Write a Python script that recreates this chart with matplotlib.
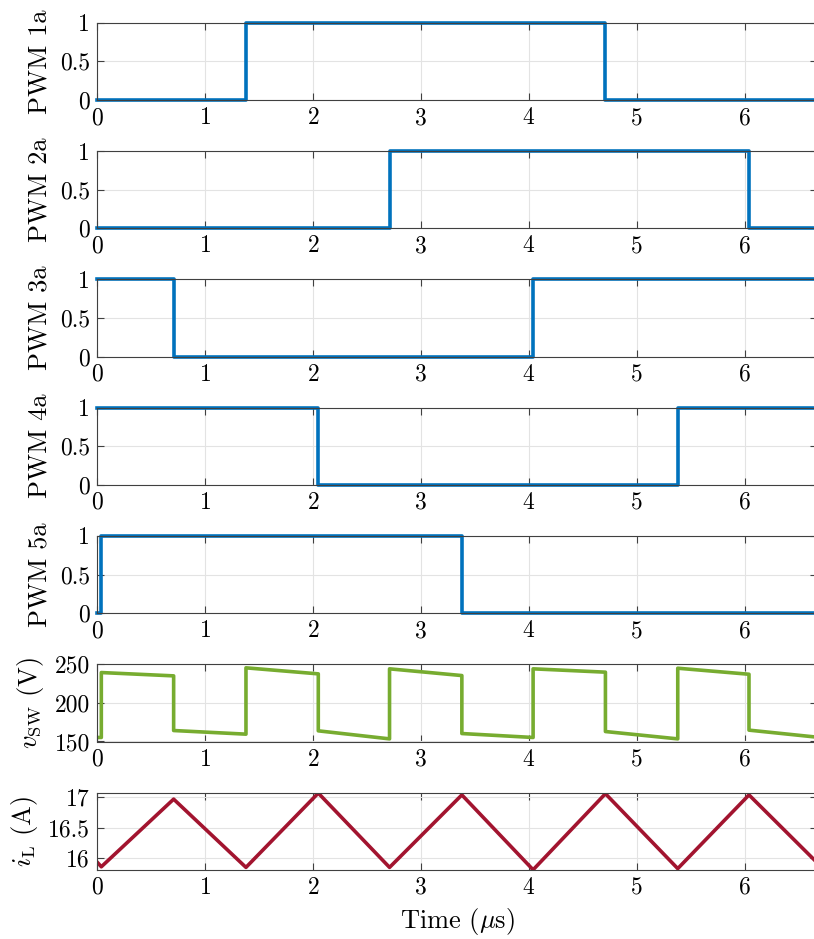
import matplotlib
matplotlib.use("Agg")
import matplotlib.pyplot as plt
from matplotlib.ticker import FormatStrFormatter

plt.rcParams['font.family'] = 'serif'
plt.rcParams['font.serif'] = ['cmr10']
plt.rcParams['mathtext.fontset'] = 'cm'
plt.rcParams['axes.formatter.use_mathtext'] = True
plt.rcParams['font.size'] = 17

# PWM gate signals (step breakpoints, time in us)
pwm_names = ['PWM 1a', 'PWM 2a', 'PWM 3a', 'PWM 4a', 'PWM 5a']
pwm_t = [
    [0, 1.38, 4.71, 6.67],
    [0, 2.71, 6.04, 6.67],
    [0, 0.71, 4.04, 6.67],
    [0, 2.05, 5.38, 6.67],
    [0, 0.04, 3.38, 6.67],
]
pwm_v = [
    [0, 1, 0, 0],
    [0, 1, 0, 0],
    [1, 0, 1, 1],
    [1, 0, 1, 1],
    [0, 1, 0, 0],
]

# switch node voltage
vsw_t = [0, 0.04, 0.04, 0.71, 0.71, 1.38, 1.38, 2.05, 2.05, 2.71, 2.71,
         3.38, 3.38, 4.04, 4.04, 4.71, 4.71, 5.38, 5.38, 6.04, 6.04, 6.67]
vsw_v = [155.2, 155.2, 239.2, 234.9, 164.2, 159.5, 245.3, 237.5, 163.8, 153.4, 244.0,
         235.3, 160.3, 155.2, 244.0, 239.7, 162.9, 153.4, 244.8, 237.0, 164.7, 155.6]

# inductor current
il_t = [0, 0.04, 0.71, 1.38, 2.05, 2.71, 3.38, 4.04, 4.71, 5.38, 6.04, 6.67]
il_v = [15.93, 15.85, 16.97, 15.84, 17.07, 15.84, 17.04, 15.80, 17.06, 15.82, 17.04, 15.92]

blue = '#0072BD'
green = '#77AC30'
red = '#A2142F'

W, H = 814, 939
fig = plt.figure(figsize=(W / 100, H / 100), dpi=100)

left = 97
right = 817
top0 = 22.7
pitch = 128.3
ph = 77.3

axes = []
for i in range(7):
    top = top0 + i * pitch
    ax = fig.add_axes([left / W, 1 - (top + ph) / H, (right - left) / W, ph / H])
    axes.append(ax)

lw = 2.6
lab = 19
for i in range(5):
    ax = axes[i]
    ax.plot(pwm_t[i], pwm_v[i], drawstyle='steps-post', color=blue, lw=lw, clip_on=False)
    ax.set_ylim(0, 1)
    ax.set_yticks([0, 0.5, 1])
    ax.set_ylabel(pwm_names[i], fontsize=lab)

axes[5].plot(vsw_t, vsw_v, color=green, lw=lw)
axes[5].set_ylim(150, 250)
axes[5].set_yticks([150, 200, 250])
axes[5].set_ylabel(r'$v_{\mathrm{SW}}$ (V)', fontsize=lab)

axes[6].plot(il_t, il_v, color=red, lw=lw)
axes[6].set_ylim(15.8, 17.08)
axes[6].set_yticks([16, 16.5, 17])
axes[6].set_ylabel(r'$i_{\mathrm{L}}$ (A)', fontsize=lab)
axes[6].set_xlabel(r'Time ($\mu$s)', fontsize=lab, labelpad=5)

for ax in axes:
    ax.set_xlim(0, 6.67)
    ax.set_xticks(range(7))
    ax.yaxis.set_major_formatter(FormatStrFormatter('%g'))
    ax.grid(True, color='#e3e3e3', lw=0.8)
    ax.set_axisbelow(True)
    for s in ax.spines.values():
        s.set_color('#404040')
        s.set_linewidth(0.8)
    ax.tick_params(direction='in', top=True, right=True, length=5,
                   width=0.8, color='#404040', pad=5)
    ax.yaxis.labelpad = 6

fig.savefig('out.png', dpi=100)
